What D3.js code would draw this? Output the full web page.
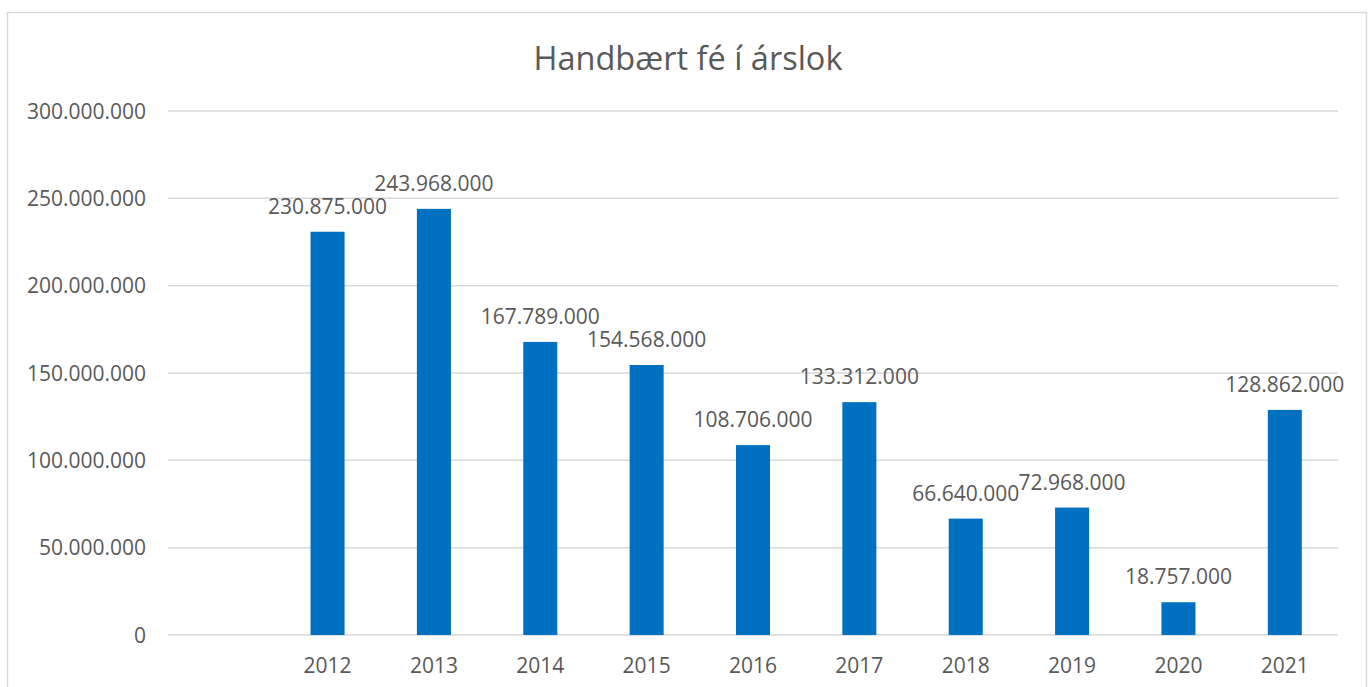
<!DOCTYPE html>
<html lang="is">
<head>
<meta charset="UTF-8">
<title>Handbært fé í árslok</title>
<script src="https://cdnjs.cloudflare.com/ajax/libs/d3/7.8.5/d3.min.js"></script>
<style>
    body { margin: 0; background: #fff; }
    svg text { font-family: "Open Sans", "Liberation Sans", sans-serif; fill: #595959; }
</style>
</head>
<body>
<div id="chart"></div>
<script>
    // Data: first slot is an empty category, as in the original
    const years = ["", "2012", "2013", "2014", "2015", "2016", "2017", "2018", "2019", "2020", "2021"];
    const cash = [null, 230875000, 243968000, 167789000, 154568000, 108706000, 133312000, 66640000, 72968000, 18757000, 128862000];
    const yTicks = [0, 50000000, 100000000, 150000000, 200000000, 250000000, 300000000];

    const width = 1370, height = 687;
    const plot = { left: 168, right: 1338, top: 111, bottom: 635 };

    const svg = d3.select("#chart").append("svg")
        .attr("width", width)
        .attr("height", height);

    // chart border
    svg.append("rect")
        .attr("x", 7.5).attr("y", 12.5)
        .attr("width", 1359).attr("height", 700)
        .attr("fill", "none")
        .attr("stroke", "#d9d9d9")
        .attr("stroke-width", 1.5);

    const x = d3.scaleBand()
        .domain(years)
        .range([plot.left, plot.right])
        .padding(0);

    const y = d3.scaleLinear()
        .domain([0, 300000000])
        .range([plot.bottom, plot.top]);

    // number format with dots as thousands separator
    const fmt = d3.formatLocale({ decimal: ",", thousands: ".", grouping: [3], currency: ["", " kr."] }).format(",d");

    // title
    svg.append("text")
        .attr("x", 688).attr("y", 70)
        .attr("text-anchor", "middle")
        .style("font-size", "32.5px")
        .text("Handbært fé í árslok");

    // gridlines
    svg.append("g").selectAll("line")
        .data(yTicks)
        .join("line")
        .attr("x1", plot.left).attr("x2", plot.right)
        .attr("y1", d => y(d)).attr("y2", d => y(d))
        .attr("stroke", "#d9d9d9")
        .attr("stroke-width", 1.5);

    // y tick labels
    svg.append("g").selectAll("text")
        .data(yTicks)
        .join("text")
        .attr("x", 146)
        .attr("y", d => y(d))
        .attr("dy", "0.36em")
        .attr("text-anchor", "end")
        .style("font-size", "21px")
        .text(d => fmt(d));

    // x labels
    svg.append("g").selectAll("text")
        .data(years)
        .join("text")
        .attr("x", d => x(d) + x.bandwidth() / 2)
        .attr("y", 673)
        .attr("text-anchor", "middle")
        .style("font-size", "21px")
        .text(d => d);

    const barW = x.bandwidth() * 0.32;
    const rows = years.map((yr, i) => ({ year: yr, value: cash[i] })).filter(d => d.value != null);

    svg.append("g").selectAll("rect")
        .data(rows)
        .join("rect")
        .attr("x", d => x(d.year) + (x.bandwidth() - barW) / 2)
        .attr("y", d => y(d.value))
        .attr("width", barW)
        .attr("height", d => y(0) - y(d.value))
        .attr("fill", "#0070c0");

    // value labels
    svg.append("g").selectAll("text")
        .data(rows)
        .join("text")
        .attr("x", d => x(d.year) + x.bandwidth() / 2)
        .attr("y", d => y(d.value) - 18)
        .attr("text-anchor", "middle")
        .style("font-size", "21px")
        .text(d => fmt(d.value));
</script>
</body>
</html>
